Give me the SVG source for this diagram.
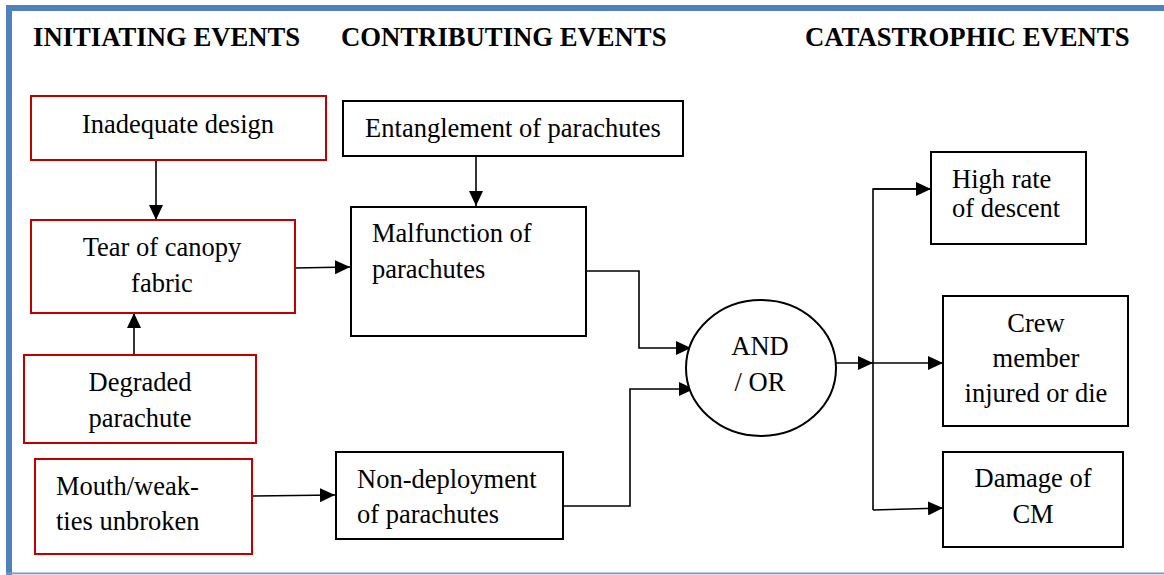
<svg xmlns="http://www.w3.org/2000/svg" width="1164" height="575" viewBox="0 0 1164 575">
  <style>
    .frame { fill: #4f81bd; }
    .head { font-family: "Liberation Serif", "Times New Roman", serif; font-weight: bold; font-size: 26.7px; fill: #000; }
    .lbl { font-family: "Liberation Serif", "Times New Roman", serif; font-size: 26.5px; fill: #000; }
    .mid { text-anchor: middle; }
    .init { fill: #fff; stroke: #c00000; stroke-width: 2; }
    .box { fill: #fff; stroke: #000; stroke-width: 2; }
    .wire { fill: none; stroke: #000; stroke-width: 1.6; }
  </style>
  <defs>
    <marker id="arrow" markerUnits="userSpaceOnUse" markerWidth="16" markerHeight="14" refX="15" refY="7" orient="auto">
      <path d="M0,0 L15,7 L0,14 Z" fill="#000"/>
    </marker>
  </defs>

  <rect width="1164" height="575" fill="#fff"/>

  <!-- page frame -->
  <rect class="frame" x="6" y="5" width="1158" height="6"/>
  <rect class="frame" x="6" y="5" width="6" height="570"/>
  <rect x="6" y="572.5" width="1158" height="1.8" fill="#6f9bd3"/>

  <!-- column headings -->
  <text class="head" x="33" y="46">INITIATING EVENTS</text>
  <text class="head" x="341" y="46">CONTRIBUTING EVENTS</text>
  <text class="head" x="805" y="46">CATASTROPHIC EVENTS</text>

  <!-- connectors -->
  <g id="connectors">
    <line class="wire" x1="156" y1="160" x2="156" y2="220" marker-end="url(#arrow)"/>
    <line class="wire" x1="134" y1="355" x2="134" y2="313" marker-end="url(#arrow)"/>
    <line class="wire" x1="295" y1="268" x2="350" y2="267" marker-end="url(#arrow)"/>
    <line class="wire" x1="476" y1="156" x2="476" y2="206" marker-end="url(#arrow)"/>
    <line class="wire" x1="252" y1="496" x2="335" y2="495" marker-end="url(#arrow)"/>
    <polyline class="wire" points="586,271 639,271 639,348 691,348" marker-end="url(#arrow)"/>
    <polyline class="wire" points="563,506 630,506 630,389 694,389" marker-end="url(#arrow)"/>
    <line class="wire" x1="836" y1="363" x2="873" y2="363" marker-end="url(#arrow)"/>
    <polyline class="wire" points="931,189 873,189 873,510"/>
    <line class="wire" x1="873" y1="189" x2="931" y2="189" marker-end="url(#arrow)"/>
    <line class="wire" x1="873" y1="363" x2="943" y2="363" marker-end="url(#arrow)"/>
    <line class="wire" x1="873" y1="510" x2="943" y2="508" marker-end="url(#arrow)"/>
  </g>

  <!-- initiating events -->
  <g id="inadequate-design">
    <rect class="init" x="31" y="96" width="295" height="64"/>
    <text class="lbl mid" x="178" y="133">Inadequate design</text>
  </g>
  <g id="tear-of-canopy">
    <rect class="init" x="31" y="220" width="264" height="93"/>
    <text class="lbl mid" x="162" y="256">Tear of canopy</text>
    <text class="lbl mid" x="162" y="292">fabric</text>
  </g>
  <g id="degraded-parachute">
    <rect class="init" x="24" y="355" width="232" height="88"/>
    <text class="lbl mid" x="140" y="391">Degraded</text>
    <text class="lbl mid" x="140" y="427">parachute</text>
  </g>
  <g id="mouth-ties">
    <rect class="init" x="35" y="459" width="217" height="95"/>
    <text class="lbl" x="56" y="495">Mouth/weak-</text>
    <text class="lbl" x="56" y="530">ties unbroken</text>
  </g>

  <!-- contributing events -->
  <g id="entanglement">
    <rect class="box" x="343" y="101" width="340" height="55"/>
    <text class="lbl mid" x="513" y="137">Entanglement of parachutes</text>
  </g>
  <g id="malfunction">
    <rect class="box" x="351" y="207" width="235" height="129"/>
    <text class="lbl" x="372" y="242">Malfunction of</text>
    <text class="lbl" x="372" y="278">parachutes</text>
  </g>
  <g id="non-deployment">
    <rect class="box" x="336" y="452" width="227" height="87"/>
    <text class="lbl" x="357" y="488">Non-deployment</text>
    <text class="lbl" x="357" y="523">of parachutes</text>
  </g>

  <!-- gate -->
  <g id="and-or-gate">
    <ellipse cx="761" cy="368" rx="75" ry="68" fill="#fff" stroke="#000" stroke-width="2"/>
    <text class="lbl mid" x="760" y="355">AND</text>
    <text class="lbl mid" x="760" y="391">/ OR</text>
  </g>

  <!-- catastrophic events -->
  <g id="high-rate-of-descent">
    <rect class="box" x="931" y="152" width="155" height="92"/>
    <text class="lbl" x="952" y="188">High rate</text>
    <text class="lbl" x="952" y="217">of descent</text>
  </g>
  <g id="crew-injured">
    <rect class="box" x="943" y="296" width="185" height="130"/>
    <text class="lbl mid" x="1036" y="332">Crew</text>
    <text class="lbl mid" x="1036" y="367">member</text>
    <text class="lbl mid" x="1036" y="402">injured or die</text>
  </g>
  <g id="damage-of-cm">
    <rect class="box" x="943" y="452" width="180" height="95"/>
    <text class="lbl mid" x="1033" y="487">Damage of</text>
    <text class="lbl mid" x="1033" y="523">CM</text>
  </g>
</svg>
